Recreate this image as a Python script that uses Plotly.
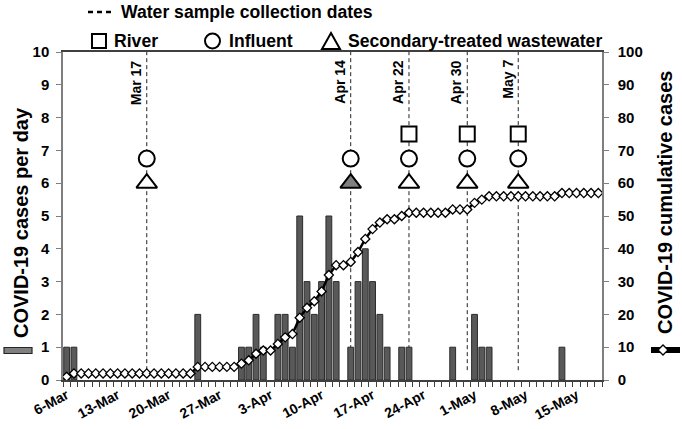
import pandas as pd
import plotly.graph_objects as go

# ---------------- data ----------------
start_date = "2020-03-06"
end_date = "2020-05-18"
days = pd.date_range(start_date, end_date, freq="D")

daily_cases = [1, 1, 0, 0, 0, 0, 0, 0, 0, 0,
               0, 0, 0, 0, 0, 0, 0, 0, 2, 0,
               0, 0, 0, 0, 1, 1, 2, 1, 0, 2,
               2, 1, 5, 3, 2, 3, 5, 3, 0, 1,
               3, 4, 3, 2, 1, 0, 1, 1, 0, 0,
               0, 0, 0, 1, 0, 0, 2, 1, 1, 0,
               0, 0, 0, 0, 0, 0, 0, 0, 1, 0,
               0, 0, 0, 0]

cumulative_cases = [1, 2, 2, 2, 2, 2, 2, 2, 2, 2,
                    2, 2, 2, 2, 2, 2, 2, 2, 4, 4,
                    4, 4, 4, 4, 5, 6, 8, 9, 9, 11,
                    13, 14, 19, 22, 24, 27, 32, 35, 35, 36,
                    39, 43, 46, 48, 49, 49, 50, 51, 51, 51,
                    51, 51, 51, 52, 52, 52, 54, 55, 56, 56,
                    56, 56, 56, 56, 56, 56, 56, 56, 57, 57,
                    57, 57, 57, 57]

sample_dates = ["2020-03-17", "2020-04-14", "2020-04-22", "2020-04-30", "2020-05-07"]
sample_labels = ["Mar 17", "Apr 14", "Apr 22", "Apr 30", "May 7"]
river_dates = ["2020-04-22", "2020-04-30", "2020-05-07"]
influent_dates = ["2020-03-17", "2020-04-14", "2020-04-22", "2020-04-30", "2020-05-07"]
secondary_dates = ["2020-03-17", "2020-04-14", "2020-04-22", "2020-04-30", "2020-05-07"]
secondary_positive = [False, True, False, False, False]
river_level = 7.5
influent_level = 6.75
secondary_level = 6.0

tick_dates = pd.date_range("2020-03-06", "2020-05-15", freq="7D")

# ---------------- figure ----------------
W, H = 682, 429
ML, MR, MT, MB = 63, 80, 52, 49
PW, PH = W - ML - MR, H - MT - MB
FONT = "Liberation Sans, Arial, sans-serif"
DAY_MS = 86400000


def px(x):
    return (x - ML) / PW


def py(y):
    return (H - MB - y) / PH


fig = go.Figure()

fig.add_trace(go.Bar(
    x=days, y=[v if v else None for v in daily_cases], width=0.8 * DAY_MS,
    marker=dict(color="#595959", line=dict(color="#2b2b2b", width=1)),
    showlegend=False, hoverinfo="x+y"))

fig.add_trace(go.Scatter(
    x=days, y=cumulative_cases, yaxis="y2", mode="lines+markers",
    line=dict(color="black", width=2.5),
    marker=dict(symbol="diamond", size=7, color="white",
                line=dict(color="black", width=1.3)),
    showlegend=False))

# sampling date lines
for d in sample_dates:
    fig.add_shape(type="line", xref="x", yref="y", x0=d, x1=d, y0=0.3, y1=10,
                  line=dict(color="#222222", width=1, dash="4px,3px"), layer="below")

for d, lab in zip(sample_dates, sample_labels):
    fig.add_annotation(x=d, y=10, xref="x", yref="y", text=lab, textangle=-90,
                       showarrow=False, xanchor="right", yanchor="top",
                       xshift=-1, yshift=-6,
                       font=dict(family=FONT, size=14, color="black", weight="bold"))

fig.add_trace(go.Scatter(
    x=river_dates, y=[river_level] * len(river_dates), mode="markers",
    marker=dict(symbol="square", size=15, color="white",
                line=dict(color="black", width=2)),
    showlegend=False, cliponaxis=False))
fig.add_trace(go.Scatter(
    x=influent_dates, y=[influent_level] * len(influent_dates), mode="markers",
    marker=dict(symbol="circle", size=16, color="white",
                line=dict(color="black", width=2)),
    showlegend=False, cliponaxis=False))
fig.add_trace(go.Scatter(
    x=secondary_dates, y=[secondary_level] * len(secondary_dates), mode="markers",
    marker=dict(symbol="triangle-up", size=18,
                color=["#7f7f7f" if p else "white" for p in secondary_positive],
                line=dict(color="black", width=2)),
    showlegend=False, cliponaxis=False))

# ---------------- custom legend ----------------
legend_font = dict(family=FONT, size=17.6, color="black", weight="bold")
fig.add_shape(type="line", xref="paper", yref="paper",
              x0=px(88), x1=px(113), y0=py(12), y1=py(12),
              line=dict(color="black", width=2.5, dash="5px,4px"))
fig.add_annotation(x=px(119), y=py(12), xref="paper", yref="paper",
                   text="Water sample collection dates", showarrow=False,
                   xanchor="left", yanchor="middle", font=legend_font)

# square
fig.add_shape(type="rect", xref="paper", yref="paper",
              x0=px(92), x1=px(106), y0=py(34), y1=py(48),
              line=dict(color="black", width=2), fillcolor="white")
fig.add_annotation(x=px(112), y=py(41), xref="paper", yref="paper",
                   text="River", showarrow=False, xanchor="left",
                   yanchor="middle", font=legend_font)
# circle
fig.add_shape(type="circle", xref="paper", yref="paper",
              x0=px(205), x1=px(220), y0=py(33.5), y1=py(48.5),
              line=dict(color="black", width=2), fillcolor="white")
fig.add_annotation(x=px(227), y=py(41), xref="paper", yref="paper",
                   text="Influent", showarrow=False, xanchor="left",
                   yanchor="middle", font=legend_font)
# triangle
tx, ty = 331, 41
fig.add_shape(type="path", xref="paper", yref="paper",
              path=f"M {px(tx-9)},{py(ty+8)} L {px(tx+9)},{py(ty+8)} L {px(tx)},{py(ty-8)} Z",
              line=dict(color="black", width=2), fillcolor="white")
fig.add_annotation(x=px(346), y=py(41), xref="paper", yref="paper",
                   text="Secondary-treated wastewater", showarrow=False,
                   xanchor="left", yanchor="middle", font=legend_font)

# ---------------- axis titles with symbols ----------------
title_font = dict(family=FONT, size=20, color="black", weight="bold")
fig.add_annotation(x=px(21), y=py(223), xref="paper", yref="paper",
                   text="COVID-19 cases per day", textangle=-90, showarrow=False,
                   xanchor="center", yanchor="middle", font=title_font)
fig.add_shape(type="rect", xref="paper", yref="paper",
              x0=px(4), x1=px(32), y0=py(347.5), y1=py(353.5),
              line=dict(color="#262626", width=1.2), fillcolor="#808080")

fig.add_annotation(x=px(665), y=py(203), xref="paper", yref="paper",
                   text="COVID-19 cumulative cases", textangle=-90, showarrow=False,
                   xanchor="center", yanchor="middle", font=title_font)
fig.add_shape(type="line", xref="paper", yref="paper",
              x0=px(651), x1=px(680), y0=py(350), y1=py(350),
              line=dict(color="black", width=6))
dx, dy = 663, 350
fig.add_shape(type="path", xref="paper", yref="paper",
              path=f"M {px(dx-5)},{py(dy)} L {px(dx)},{py(dy-5)} L {px(dx+5)},{py(dy)} L {px(dx)},{py(dy+5)} Z",
              line=dict(color="black", width=1.3), fillcolor="white")

tick_font = dict(family=FONT, size=15, color="black", weight="bold")

fig.update_layout(
    width=W, height=H,
    margin=dict(l=ML, r=MR, t=MT, b=MB, autoexpand=False),
    paper_bgcolor="white", plot_bgcolor="white",
    showlegend=False,
    bargap=0.2,
    xaxis=dict(
        type="date", automargin=False,
        range=["2020-03-05 12:00", "2020-05-18 12:00"],
        tickmode="array", tickvals=list(tick_dates), tickformat="%-d-%b",
        tickangle=-28, ticks="", showgrid=False, zeroline=False,
        showline=True, linecolor="#404040", linewidth=1.5, mirror=True,
        tickfont=dict(family=FONT, size=14, color="black", weight="bold"),
        minor=dict(ticks="outside", ticklen=5, tickcolor="#404040",
                   tick0="2020-03-05 12:00", dtick=DAY_MS, showgrid=False),
    ),
    yaxis=dict(
        range=[0, 10], dtick=1, showgrid=False, zeroline=False, automargin=False,
        showline=True, linecolor="#7f7f7f", linewidth=1.5,
        ticks="outside", ticklen=5, tickcolor="#7f7f7f",
        tickfont=tick_font, ticklabelstandoff=4,
    ),
    yaxis2=dict(
        range=[0, 100], dtick=10, overlaying="y", side="right", automargin=False,
        showgrid=False, zeroline=False,
        showline=True, linecolor="#7f7f7f", linewidth=1.5,
        ticks="outside", ticklen=5, tickcolor="#7f7f7f",
        tickfont=tick_font, ticklabelstandoff=6,
    ),
)

fig.write_html("out.html", config={"displayModeBar": False},
               post_script="document.body.style.margin='0';document.body.style.overflow='hidden';")
